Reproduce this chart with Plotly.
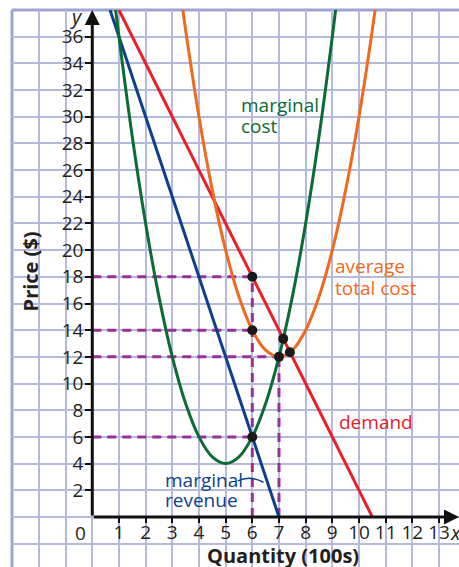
import plotly.graph_objects as go

# ---------------- data ----------------
mc_q = [0.8, 1.0, 1.5, 2.0, 2.5, 3.0, 3.5, 4.0, 4.5, 5.0, 5.5, 6.0, 6.5, 7.0, 7.5, 8.0, 8.5, 9.0, 9.2]
mc_p = [39.3, 36.0, 28.5, 22.0, 16.5, 12.0, 8.5, 6.0, 4.5, 4.0, 4.5, 6.0, 8.5, 12.0, 16.5, 22.0, 28.5, 36.0, 39.3]

atc_q = [3.2, 3.5, 4.0, 4.5, 5.0, 5.5, 6.0, 6.5, 7.0, 7.5, 8.0, 8.5, 9.0, 9.5, 10.0, 10.5, 10.8]
atc_p = [40.9, 36.5, 30.0, 24.5, 20.0, 16.5, 14.0, 12.5, 12.0, 12.5, 14.0, 16.5, 20.0, 24.5, 30.0, 36.5, 40.9]

demand_q = [1.0, 10.5]
demand_p = [38.0, 0.0]

mr_q = [0.667, 7.0]
mr_p = [38.0, 0.0]

points_q = [6, 6, 6, 7, 7.16, 7.41]
points_p = [18, 14, 6, 12, 13.35, 12.35]

hguide_p = [18, 14, 12, 6]
hguide_q = [6, 6, 7, 6]
vguide_q = [6, 7]
vguide_p = [18, 12]

x_ticks = list(range(1, 14))
y_ticks = list(range(2, 37, 2))

# ---------------- styles ----------------
W, H = 459, 567
GRID = "#b5badd"
BORDER = "#9ea3d1"
RED = "#e8202a"
BLUE = "#0d3f8f"
GREEN = "#0a6b35"
ORANGE = "#ef6a1e"
PURPLE = "#98309a"
TXT = "#231f20"
FONT = "Open Sans, Noto Sans, DejaVu Sans, sans-serif"

XR = [-3.01, 13.75]
YR = [-3.75, 38.0]

fig = go.Figure()

for p, q in zip(hguide_p, hguide_q):
    fig.add_trace(go.Scatter(x=[0, q], y=[p, p], mode="lines",
                             line=dict(color=PURPLE, width=3, dash="9px,6px"),
                             hoverinfo="skip", showlegend=False))
for q, p in zip(vguide_q, vguide_p):
    fig.add_trace(go.Scatter(x=[q, q], y=[0, p], mode="lines",
                             line=dict(color=PURPLE, width=3, dash="9px,6px"),
                             hoverinfo="skip", showlegend=False))

fig.add_trace(go.Scatter(x=mr_q, y=mr_p, mode="lines", line=dict(color=BLUE, width=3), showlegend=False))
fig.add_trace(go.Scatter(x=demand_q, y=demand_p, mode="lines", line=dict(color=RED, width=3), showlegend=False))
fig.add_trace(go.Scatter(x=atc_q, y=atc_p, mode="lines", line=dict(color=ORANGE, width=3, shape="spline"), showlegend=False))
fig.add_trace(go.Scatter(x=mc_q, y=mc_p, mode="lines", line=dict(color=GREEN, width=3, shape="spline"), showlegend=False))
fig.add_trace(go.Scatter(x=points_q, y=points_p, mode="markers",
                         marker=dict(color="#1a1a1a", size=10), showlegend=False))

ann = []
# axes arrows
ann.append(dict(x=0, y=YR[1], ax=0, ay=0, xref="x", yref="y", axref="x", ayref="y",
                text="", showarrow=True, arrowhead=2, arrowsize=1, arrowwidth=3, arrowcolor="#111"))
ann.append(dict(x=XR[1], y=0, ax=0, ay=0, xref="x", yref="y", axref="x", ayref="y",
                text="", showarrow=True, arrowhead=2, arrowsize=1, arrowwidth=3, arrowcolor="#111"))

def label(txt, x, y, color, size=19, **kw):
    d = dict(text=txt, x=x, y=y, xref="x", yref="y", showarrow=False,
             font=dict(family=FONT, size=size, color=color), xanchor="left", yanchor="middle")
    d.update(kw)
    ann.append(d)

label("marginal", 5.50, 30.9, GREEN)
label("cost", 5.50, 29.3, GREEN)
label("average", 9.03, 18.8, ORANGE)
label("total cost", 9.03, 17.2, ORANGE)
label("demand", 9.17, 7.1, RED)
label("marginal", 2.65, 2.75, BLUE)
label("revenue", 2.65, 1.3, BLUE)

label("0", -0.46, -1.2, TXT, size=19, xanchor="center")
label("<i>y</i>", -0.6, 37.5, TXT, size=20, xanchor="center")
label("<i>x</i>", 13.62, -1.15, TXT, size=20, xanchor="center")
label("<b>Price ($)</b>", -2.30, 18.4, TXT, size=20, xanchor="center", textangle=-90)
label("<b>Quantity (100s)</b>", 7.15, -2.9, TXT, size=20, xanchor="center")

shapes = [
    dict(type="line", xref="paper", yref="paper", x0=0, x1=0, y0=0, y1=1,
         line=dict(color=BORDER, width=3), layer="below"),
    dict(type="line", xref="paper", yref="paper", x0=0, x1=1, y0=1, y1=1,
         line=dict(color=BORDER, width=3), layer="below"),
    dict(type="path", xref="x", yref="y", path="M 5.46,2.70 Q 5.91,3.15 6.42,2.60",
         line=dict(color=BLUE, width=1.5)),
]

fig.update_layout(
    width=W, height=H, autosize=False,
    margin=dict(l=12, r=0, t=10, b=0, pad=0),
    paper_bgcolor="white", plot_bgcolor="white",
    annotations=ann, shapes=shapes,
    xaxis=dict(range=XR, anchor="free", position=(0 - YR[0]) / (YR[1] - YR[0]),
               tickmode="array", tickvals=x_ticks, ticktext=[str(v) for v in x_ticks],
               ticks="outside", ticklen=5, tickwidth=2, tickcolor="#111",
               ticklabelstandoff=-7,
               tickfont=dict(family=FONT, size=19, color=TXT),
               showgrid=True, gridcolor=GRID, gridwidth=2, zeroline=False, showline=False,
               minor=dict(tickmode="linear", tick0=0, dtick=1, showgrid=True,
                          gridcolor=GRID, gridwidth=2, ticks=""),
               fixedrange=True),
    yaxis=dict(range=YR, anchor="free", position=(0 - XR[0]) / (XR[1] - XR[0]),
               tickmode="array", tickvals=y_ticks, ticktext=[str(v) for v in y_ticks],
               ticks="outside", ticklen=7, tickwidth=2, tickcolor="#111",
               ticklabelstandoff=-2,
               tickfont=dict(family=FONT, size=19, color=TXT),
               showgrid=True, gridcolor=GRID, gridwidth=2, zeroline=False, showline=False,
               minor=dict(tickmode="linear", tick0=0, dtick=2, showgrid=True,
                          gridcolor=GRID, gridwidth=2, ticks=""),
               fixedrange=True),
)

fig.write_html("out.html", config={"displayModeBar": False},
               post_script="document.body.style.margin='0';document.body.style.overflow='hidden';")
